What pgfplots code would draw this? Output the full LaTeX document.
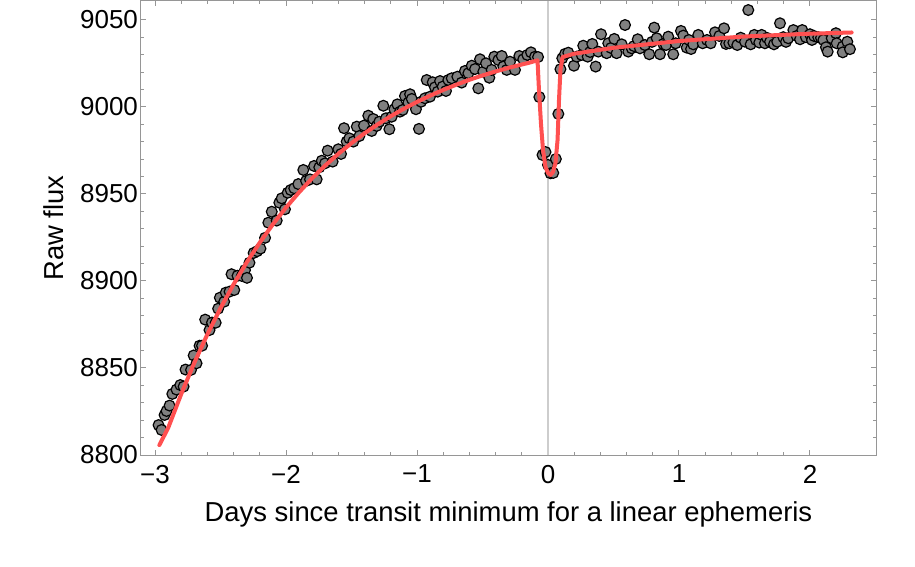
\documentclass[border=0pt]{standalone}
\usepackage{pgfplots}
\pgfplotsset{compat=1.18}
\usepackage{fontspec}
\setmainfont{Liberation Sans}

\definecolor{fitred}{RGB}{255,80,80}
\definecolor{ptgray}{RGB}{128,128,128}
\definecolor{framegray}{RGB}{150,150,150}
\definecolor{zerogray}{RGB}{205,205,205}

\begin{document}
\begin{tikzpicture}
\begin{axis}[
    scale only axis,
    width=367.5pt, height=227pt,
    xmin=-3.107, xmax=2.504,
    ymin=8800, ymax=9060.9,
    axis line style={framegray, line width=0.5pt},
    tick style={framegray, line width=0.5pt},
    tick align=inside,
    major tick length=2.5pt, minor tick length=1.5pt,
    xtick={-3,-2,-1,0,1,2},
    xticklabels={−3,−2,−1,0,1,2},
    ytick={8800,8850,8900,8950,9000,9050},
    minor x tick num=4, minor y tick num=4,
    /pgf/number format/assume math mode=true,
    /pgf/number format/1000 sep={},
    ticklabel style={font=\fontsize{13}{13}\selectfont, black},
    xticklabel style={yshift=-1.5pt},
    yticklabel style={xshift=2pt},
    label style={font=\fontsize{13.7}{14}\selectfont},
    xlabel={Days since transit minimum for a linear ephemeris},
    ylabel={Raw flux},
    xlabel style={at={(axis description cs:0.5,-0.1466)}, anchor=base},
    ylabel style={at={(axis description cs:-0.1048,0.5)}, anchor=base},
    clip=false,
    clip marker paths=true,
]
% zero line
\addplot[zerogray, line width=1pt] coordinates {(0,8800) (0,9060.9)};

% data points
\addplot[only marks, mark=*, mark size=2.7pt,
    mark options={fill=ptgray, draw=black, line width=0.6pt}] coordinates {
(-2.973,8817.2) (-2.950,8814.4) (-2.927,8823.0) (-2.912,8825.3) (-2.889,8828.4)
(-2.868,8835.1) (-2.836,8837.6) (-2.807,8840.2) (-2.782,8839.3) (-2.767,8849.1)
(-2.725,8848.9) (-2.705,8857.2) (-2.683,8852.7) (-2.660,8862.8) (-2.641,8862.8)
(-2.617,8877.8) (-2.584,8871.8) (-2.565,8876.1) (-2.537,8876.0) (-2.518,8884.1)
(-2.505,8890.4) (-2.472,8888.1) (-2.460,8893.3) (-2.431,8893.9) (-2.395,8894.8)
(-2.416,8903.9) (-2.370,8903.0) (-2.338,8902.9) (-2.313,8906.3) (-2.298,8901.8)
(-2.279,8910.5) (-2.247,8916.1) (-2.220,8917.1) (-2.195,8918.6) (-2.160,8924.8)
(-2.135,8933.5) (-2.109,8939.8) (-2.071,8934.7) (-2.051,8945.0) (-2.033,8947.5)
(-2.008,8941.2) (-1.987,8950.7) (-1.964,8952.3) (-1.937,8953.3) (-1.906,8955.7)
(-1.868,8963.8) (-1.847,8957.5) (-1.817,8958.4) (-1.786,8966.1) (-1.766,8958.4)
(-1.746,8965.3) (-1.727,8969.1) (-1.702,8967.6) (-1.682,8974.9) (-1.644,8968.6)
(-1.601,8975.7) (-1.580,8973.0) (-1.557,8987.8) (-1.537,8980.1) (-1.517,8982.0)
(-1.486,8980.1) (-1.460,8988.7) (-1.440,8983.3) (-1.405,8989.3) (-1.372,8995.0)
(-1.346,8986.2) (-1.334,8993.1) (-1.308,8989.1) (-1.288,8991.5) (-1.257,9000.7)
(-1.237,8993.5) (-1.211,8987.2) (-1.193,8994.4) (-1.173,8998.7) (-1.150,9001.5)
(-1.130,8997.3) (-1.109,8998.3) (-1.092,9006.3) (-1.066,9002.5) (-1.053,9007.3)
(-1.040,9004.6) (-1.008,8998.7) (-0.985,8987.4) (-0.969,9003.0) (-0.939,9005.0)
(-0.926,9015.5) (-0.901,9005.9) (-0.880,9014.2) (-0.863,9011.3) (-0.842,9008.8)
(-0.824,9014.9) (-0.804,9011.7) (-0.779,9009.2) (-0.761,9015.5) (-0.735,9016.5)
(-0.692,9017.4) (-0.659,9014.0) (-0.634,9020.7) (-0.608,9019.4) (-0.582,9023.7)
(-0.557,9021.8) (-0.532,9010.7) (-0.519,9027.4) (-0.494,9020.3) (-0.473,9025.1)
(-0.448,9016.8) (-0.430,9021.3) (-0.410,9028.9) (-0.379,9027.0) (-0.353,9029.3)
(-0.341,9023.2) (-0.315,9021.3) (-0.290,9026.0) (-0.252,9021.3) (-0.219,9029.3)
(-0.189,9027.4) (-0.158,9029.9) (-0.130,9031.4) (-0.099,9028.9) (-0.076,9028.7)
(-0.066,9005.7) (-0.042,8972.4) (-0.019,8974.1) (0.000,8966.7) (0.019,8961.9)
(0.040,8962.1) (0.060,8970.1) (0.079,8996.0) (0.095,9021.7) (0.109,9028.0)
(0.130,9030.5) (0.155,9031.2) (0.198,9023.7) (0.219,9028.9) (0.257,9029.9)
(0.269,9035.2) (0.303,9028.9) (0.321,9031.6) (0.338,9036.2) (0.364,9023.2)
(0.384,9031.8) (0.405,9041.8) (0.448,9030.9) (0.460,9036.6) (0.481,9033.9)
(0.506,9039.1) (0.524,9030.9) (0.563,9036.0) (0.588,9047.1) (0.613,9031.8)
(0.639,9033.7) (0.656,9035.0) (0.685,9038.9) (0.702,9033.7) (0.740,9035.6)
(0.773,9030.3) (0.794,9037.4) (0.811,9045.6) (0.830,9039.5) (0.855,9030.3)
(0.880,9036.2) (0.901,9035.6) (0.918,9040.4) (0.956,9030.3) (0.975,9036.6)
(1.015,9043.7) (1.033,9041.0) (1.059,9034.1) (1.076,9038.5) (1.092,9033.3)
(1.109,9036.0) (1.147,9041.4) (1.181,9036.6) (1.214,9038.5) (1.242,9036.6)
(1.275,9042.9) (1.308,9040.8) (1.344,9045.2) (1.359,9036.2) (1.384,9036.6)
(1.415,9037.0) (1.445,9035.6) (1.471,9039.8) (1.504,9037.5) (1.529,9055.7)
(1.547,9036.0) (1.575,9041.4) (1.588,9038.5) (1.613,9037.0) (1.631,9041.4)
(1.656,9036.6) (1.672,9039.7) (1.695,9037.5) (1.725,9036.0) (1.750,9037.5)
(1.771,9048.1) (1.796,9040.1) (1.817,9037.4) (1.834,9039.5) (1.873,9044.2)
(1.898,9040.8) (1.924,9038.9) (1.941,9044.2) (1.969,9040.1) (2.000,9041.8)
(2.015,9038.5) (2.031,9040.8) (2.063,9040.1) (2.084,9039.7) (2.102,9038.5)
(2.122,9034.3) (2.135,9031.8) (2.166,9039.5) (2.198,9042.4) (2.204,9036.6)
(2.250,9034.7) (2.250,9031.4) (2.285,9037.5) (2.305,9033.2)
};

% fitted model
\addplot[fitred, line width=2pt, line join=round, line cap=round] coordinates {
(-2.967,8805.7) (-2.9,8815.5) (-2.8,8835.0) (-2.7,8853.0) (-2.6,8869.4)
(-2.5,8884.4) (-2.4,8898.1) (-2.3,8910.7) (-2.2,8922.1) (-2.1,8932.6)
(-2.0,8942.2) (-1.9,8951.0) (-1.8,8959.1) (-1.7,8966.4) (-1.6,8973.1)
(-1.5,8979.2) (-1.4,8984.9) (-1.3,8990.0) (-1.2,8994.7) (-1.1,8999.0)
(-1.0,9002.9) (-0.9,9006.5) (-0.8,9009.8) (-0.7,9012.8) (-0.6,9015.6)
(-0.5,9018.1) (-0.4,9020.4) (-0.3,9022.5) (-0.2,9024.4) (-0.15,9025.3)
(-0.080,9026.8) (-0.069,9009.8) (-0.053,8989.7) (-0.038,8975.3) (-0.019,8965.5)
(0.000,8962.1) (0.019,8960.9) (0.038,8962.6) (0.057,8967.8) (0.073,8981.0)
(0.084,9004.0) (0.095,9021.3) (0.111,9028.7) (0.2,9030.6) (0.5,9034.0)
(1.0,9037.9) (1.5,9040.5) (2.0,9042.1) (2.318,9042.8)
};
\end{axis}
\pgfresetboundingbox
\path[use as bounding box] (current axis.south west) ++(-70.5pt,-56pt) rectangle ++(457.5pt,283.5pt);
\end{tikzpicture}
\end{document}
